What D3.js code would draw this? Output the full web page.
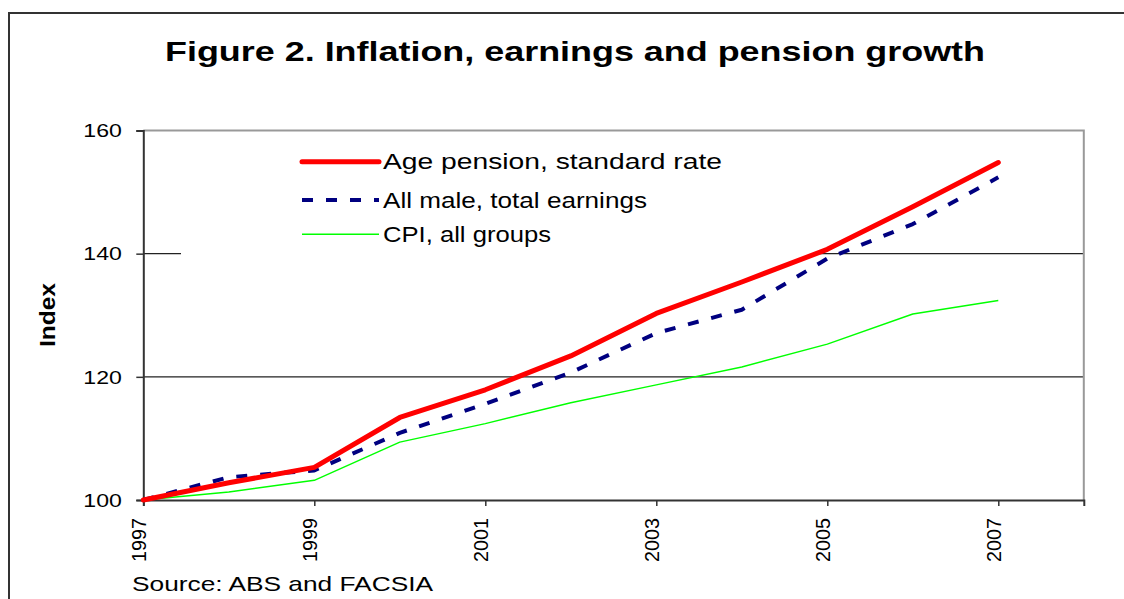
<!DOCTYPE html>
<html>
<head>
<meta charset="utf-8">
<script src="https://cdn.jsdelivr.net/npm/d3@7"></script>
<style>
  html, body { margin: 0; padding: 0; background: #fff; }
  svg { display: block; font-family: "Liberation Sans", Arial, sans-serif; }
</style>
</head>
<body>
<svg id="chart" width="1124" height="599"></svg>
<script>
// ---- data ----
const years = [1997, 1998, 1999, 2000, 2001, 2002, 2003, 2004, 2005, 2006, 2007];
const agePension = [100, 102.8, 105.3, 113.4, 117.9, 123.4, 130.3, 135.4, 140.7, 147.6, 154.8];
const maleEarnings = [100, 103.7, 104.8, 110.9, 115.6, 120.7, 127.1, 130.9, 139.2, 144.8, 152.4];
const cpi = [100, 101.3, 103.2, 109.4, 112.4, 115.8, 118.7, 121.6, 125.3, 130.2, 132.4];
const seriesNames = ["Age pension, standard rate", "All male, total earnings", "CPI, all groups"];
const yTicks = [100, 120, 140, 160];
const xTicks = [1997, 1999, 2001, 2003, 2005, 2007];
const titleText = "Figure 2. Inflation, earnings and pension growth";
const yLabel = "Index";
const sourceText = "Source: ABS and FACSIA";

const svg = d3.select("#chart");
const x = d3.scaleLinear().domain([1997, 2008]).range([143.3, 1083.8]);
const y = d3.scaleLinear().domain([100, 160]).range([500, 130.5]);

// outer frame
svg.append("path").attr("d", "M9,599 V13 H1124")
  .attr("fill", "none").attr("stroke", "#333").attr("stroke-width", 2);

// title
svg.append("text").attr("x", 165).attr("y", 61)
  .attr("font-size", 28).attr("font-weight", "bold").attr("fill", "#000")
  .attr("textLength", 820).attr("lengthAdjust", "spacingAndGlyphs")
  .text(titleText);

// gridlines
svg.append("g").selectAll("line").data([120, 140]).join("line")
  .attr("x1", x(1997)).attr("x2", x(2008))
  .attr("y1", d => y(d)).attr("y2", d => y(d))
  .attr("stroke", "#222").attr("stroke-width", 1.2);

// plot border top/right
svg.append("path")
  .attr("d", `M${x(1997)},${y(160)} H${x(2008)} V${y(100)}`)
  .attr("fill", "none").attr("stroke", "#999").attr("stroke-width", 2);

// legend background (covers gridline)
const legend = svg.append("g");
legend.append("rect").attr("x", 181).attr("y", 137).attr("width", 630).attr("height", 120)
  .attr("fill", "#fff");

// axes
const yAxis = svg.append("g").attr("transform", `translate(${x(1997)},0)`)
  .call(d3.axisLeft(y).tickValues(yTicks).tickSize(7).tickPadding(0).tickFormat(d3.format("d")));
yAxis.select(".domain").attr("stroke", "#333").attr("stroke-width", 2);
yAxis.selectAll(".tick line").attr("stroke", "#333").attr("stroke-width", 1.5);
yAxis.selectAll(".tick text")
  .attr("x", -21.5).attr("dy", "0.33em")
  .attr("font-size", 19).attr("fill", "#000")
  .attr("font-family", "Liberation Sans, Arial, sans-serif")
  .attr("textLength", 38.5).attr("lengthAdjust", "spacingAndGlyphs");

const xAxis = svg.append("g").attr("transform", `translate(0,${y(100)})`)
  .call(d3.axisBottom(x).tickValues(xTicks).tickSize(6).tickFormat(d3.format("d")));
xAxis.select(".domain").attr("stroke", "#333").attr("stroke-width", 2);
xAxis.selectAll(".tick line").attr("stroke", "#333").attr("stroke-width", 1.5);
xAxis.selectAll(".tick text")
  .attr("transform", "rotate(-90)")
  .attr("x", -18).attr("y", 2.5).attr("dy", 0)
  .attr("text-anchor", "end")
  .attr("font-size", 20).attr("fill", "#000")
  .attr("font-family", "Liberation Sans, Arial, sans-serif")
  .attr("textLength", 44).attr("lengthAdjust", "spacingAndGlyphs");

// y label
svg.append("text")
  .attr("transform", "translate(55,315) rotate(-90)")
  .attr("text-anchor", "middle")
  .attr("font-size", 22).attr("font-weight", "bold").attr("fill", "#000")
  .attr("textLength", 64).attr("lengthAdjust", "spacingAndGlyphs")
  .text(yLabel);

// source
svg.append("text").attr("x", 132).attr("y", 591)
  .attr("font-size", 21).attr("fill", "#000")
  .attr("textLength", 301).attr("lengthAdjust", "spacingAndGlyphs")
  .text(sourceText);

// series
const styles = [
  { color: "#ff0000", width: 5, dash: null },
  { color: "#000080", width: 4, dash: "11,13" },
  { color: "#00ff00", width: 1.4, dash: null }
];
const seriesData = [agePension, maleEarnings, cpi];
const line = d3.line().x((d, i) => x(years[i])).y(d => y(d));

// draw back-to-front: CPI, male, pension
[2, 1, 0].forEach(k => {
  svg.append("path").datum(seriesData[k])
    .attr("d", line)
    .attr("fill", "none")
    .attr("stroke", styles[k].color)
    .attr("stroke-width", styles[k].width)
    .attr("stroke-linejoin", "round")
    .attr("stroke-linecap", k === 0 ? "round" : "butt")
    .attr("stroke-dasharray", styles[k].dash);
});

// legend entries
const legY = [161.7, 200, 234.3];
const legLen = [339, 264, 168];
seriesNames.forEach((name, k) => {
  legend.append("line")
    .attr("x1", 302).attr("x2", 379)
    .attr("y1", legY[k]).attr("y2", legY[k])
    .attr("stroke", styles[k].color)
    .attr("stroke-width", styles[k].width)
    .attr("stroke-linecap", k === 0 ? "round" : "butt")
    .attr("stroke-dasharray", styles[k].dash);
  legend.append("text")
    .attr("x", 383).attr("y", legY[k] + 7.5)
    .attr("font-size", 22).attr("fill", "#000")
    .attr("textLength", legLen[k]).attr("lengthAdjust", "spacingAndGlyphs")
    .text(name);
});
</script>
</body>
</html>
